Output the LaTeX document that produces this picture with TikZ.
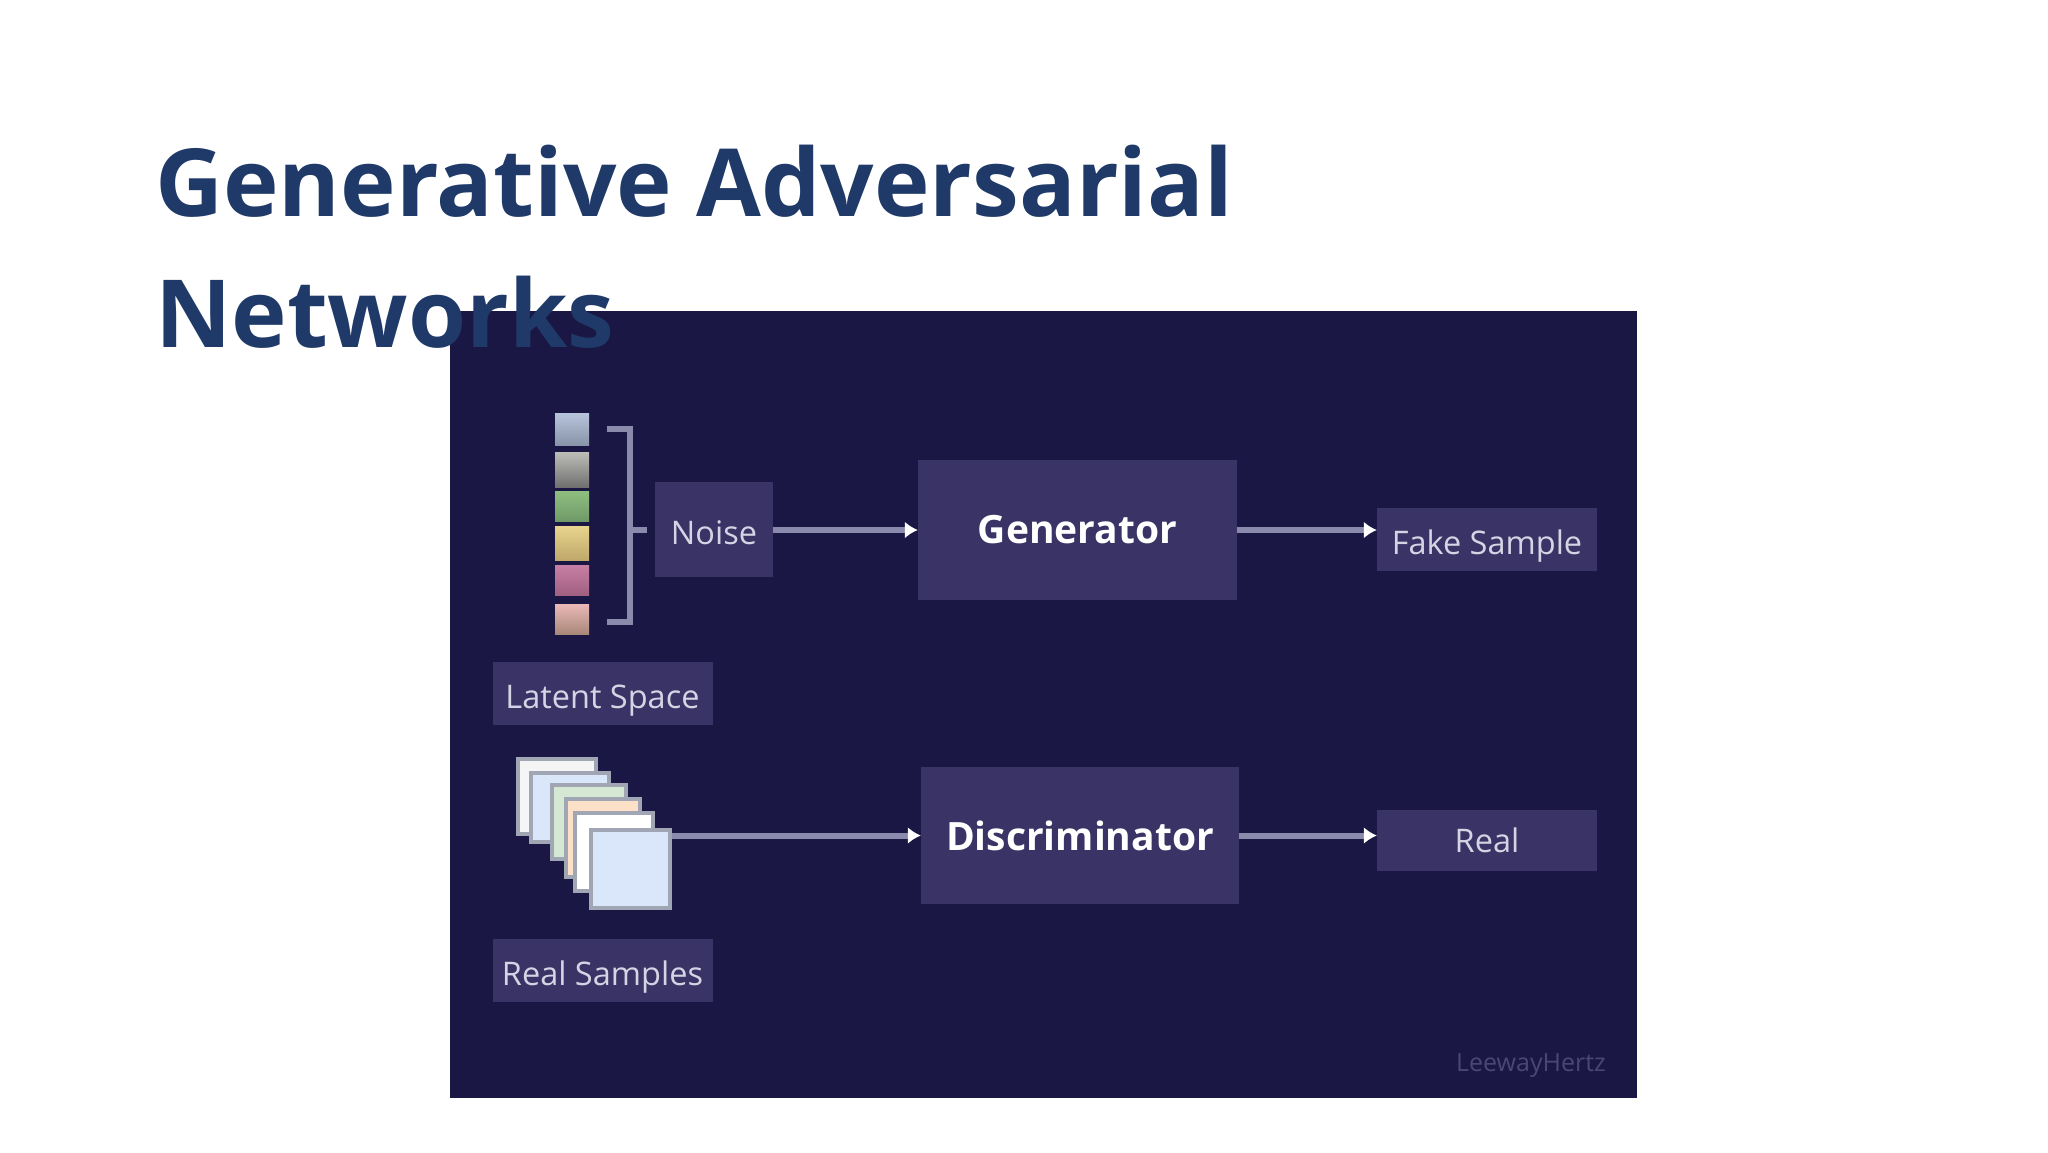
\documentclass[tikz,border=0pt]{standalone}
\usepackage{fontspec}
\setmainfont{Open Sans}
\usetikzlibrary{arrows.meta}
\definecolor{panelcol}{HTML}{1A1745}
\definecolor{boxcol}{HTML}{3A3366}
\definecolor{linecol}{HTML}{8A8AAC}
\definecolor{labelcol}{HTML}{D4D4E4}
\definecolor{titlecol}{HTML}{1F3A68}
\definecolor{edgecol}{HTML}{A0A6B4}
\definecolor{creditcol}{HTML}{4A4775}
\definecolor{swA}{HTML}{B8C4DC}\definecolor{swAb}{HTML}{8894A8}
\definecolor{swB}{HTML}{BDBDB8}\definecolor{swBb}{HTML}{707070}
\definecolor{swC}{HTML}{8FBF80}\definecolor{swCb}{HTML}{6F9A68}
\definecolor{swD}{HTML}{E8D48E}\definecolor{swDb}{HTML}{BFA86A}
\definecolor{swE}{HTML}{C87FA5}\definecolor{swEb}{HTML}{A06080}
\definecolor{swF}{HTML}{EBB8B8}\definecolor{swFb}{HTML}{A88878}
\definecolor{shA}{HTML}{F5F5F5}
\definecolor{shB}{HTML}{DAE6FA}
\definecolor{shC}{HTML}{D5E8D4}
\definecolor{shD}{HTML}{FCE0C8}
\begin{document}
\begin{tikzpicture}[x=1pt,y=-1pt,
    box/.style={fill=boxcol,text=labelcol,inner sep=0pt,font=\fontsize{32.5}{38}\selectfont},
    lowbox/.style={box,text height=36pt,text depth=7pt},
    bigbox/.style={box,text=white,font=\fontsize{39}{46}\selectfont\bfseries},
    link/.style={draw=linecol,line width=6pt,-{Latex[length=13pt,width=17pt,color=white]}},
    swatch/.style={draw=none,minimum width=34pt,inner sep=0pt},
    sheet/.style={draw=edgecol,line width=4pt,inner sep=0pt},
]

\useasboundingbox (0,0) rectangle (2048,1152);
\fill[white] (0,0) rectangle (2048,1152);
\fill[panelcol] (449.5,311) rectangle (1636.5,1098);

\node [swatch,minimum height=32pt,top color=swA,bottom color=swAb] (s1) at (572,429){};
\node [swatch,minimum height=35pt,top color=swB,bottom color=swBb] (s2) at (572,469.5){};
\node [swatch,minimum height=30pt,top color=swC,bottom color=swCb] (s3) at (572,506){};
\node [swatch,minimum height=34pt,top color=swD,bottom color=swDb] (s4) at (572,543){};
\node [swatch,minimum height=30pt,top color=swE,bottom color=swEb] (s5) at (572,580){};
\node [swatch,minimum height=30pt,top color=swF,bottom color=swFb] (s6) at (572,619){};

\coordinate (braceA) at (607,429);
\coordinate (braceB) at (607,622);
\coordinate (braceC) at (647,530);
\draw [linecol,line width=6pt] (braceA) -- (630,429) -- (630,622) -- (braceB);
\draw [linecol,line width=6pt] (630,530) -- (braceC);

\node [lowbox,minimum width=118pt,minimum height=95pt] (noise) at (714,529.5){Noise};
\node [bigbox,minimum width=319pt,minimum height=140pt] (gen) at (1077.5,530){Generator};
\node [lowbox,minimum width=220pt,minimum height=63pt] (fake) at (1487,539.5){Fake Sample};
\node [lowbox,minimum width=220pt,minimum height=63pt] (latent) at (602.5,693.5){Latent Space};

\node [sheet,fill=shA,minimum width=78pt,minimum height=75pt] (p1) at (557,796.5){};
\node [sheet,fill=shB,minimum width=78pt,minimum height=69pt] (p2) at (570,807.5){};
\node [sheet,fill=shC,minimum width=74pt,minimum height=74pt] (p3) at (589,822){};
\node [sheet,fill=shD,minimum width=74pt,minimum height=78pt] (p4) at (603,838){};
\node [sheet,fill=white,minimum width=78pt,minimum height=78pt] (p5) at (614,852){};
\node [sheet,fill=shB,minimum width=79pt,minimum height=78pt] (p6) at (630.5,869){};

\node [bigbox,minimum width=318pt,minimum height=137pt] (disc) at (1080,835.5){Discriminator};
\node [box,minimum width=220pt,minimum height=61pt] (real) at (1487,840){Real};
\node [lowbox,minimum width=220pt,minimum height=63pt] (samples) at (602.5,970.5){Real Samples};

\draw [link] (noise.east |- gen.west) -- (gen.west);
\draw [link] (gen.east) -- (gen.east -| fake.west);
\draw [link] (p6.east |- disc.west) -- (disc.west);
\draw [link] (disc.east) -- (disc.east -| real.west);

\node [text=creditcol,font=\fontsize{25}{30}\selectfont] (credit) at (1531,1066){LeewayHertz};

\node [text=titlecol,anchor=north west,align=left,inner sep=0pt,font=\fontsize{94}{131}\selectfont\bfseries] (title) at (155,145){Generative Adversarial\\Networks};

\end{tikzpicture}
\end{document}
